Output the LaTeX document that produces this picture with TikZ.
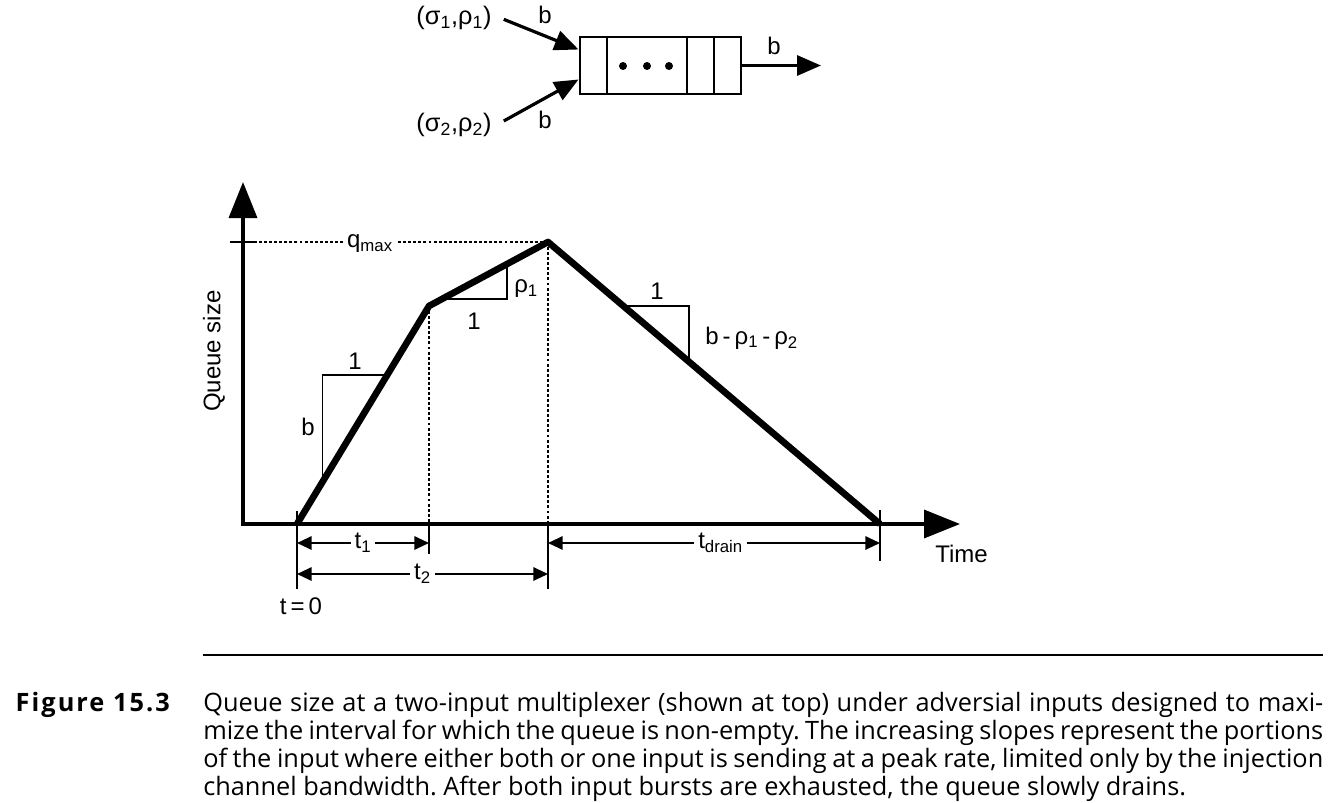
\documentclass[tikz,border=0pt]{standalone}
\usepackage{fontspec}
\setmainfont{Liberation Sans}
\newfontfamily\capfont{Open Sans}
\newfontfamily\capboldfont[LetterSpace=8]{Open Sans Bold}
\usetikzlibrary{arrows.meta,calc,positioning}

\begin{document}
\frenchspacing
\begin{tikzpicture}[x=0.75pt,y=-0.75pt,
  lbl/.style={font=\fontsize{18}{20}\selectfont,inner sep=0pt},
  capline/.style={anchor=base west,inner sep=0pt,font=\capfont\fontsize{19}{22}\selectfont},
  curve/.style={line width=5pt,line join=round},
  axis/.style={line width=2.6pt,-{Triangle[length=27pt,width=21pt]}},
  slope/.style={line width=1.1pt},
  guide/.style={line width=1.5pt,dash pattern=on 2.2pt off 1.6pt},
  dimline/.style={line width=1.5pt,{Triangle[length=11pt,width=10pt]}-{Triangle[length=11pt,width=10pt]}},
  tick/.style={line width=1.1pt},
  feed/.style={line width=2.4pt,-{Triangle[length=18pt,width=15pt]}}]
  \useasboundingbox (0,0) rectangle (1329,803);

  % multiplexer at top
  \node[draw,line width=2.2pt,minimum width=120.75pt,minimum height=42.75pt,inner sep=0pt] (queue) at (660.5,65.5) {};
  \foreach \x in {607,687,714}
    \draw[line width=1.6pt] (\x,37) -- (\x,94);
  \foreach \x in {623,647,669}
    \fill (\x,66) circle (3pt);
  \node[lbl,font=\fontsize{19}{20}\selectfont] (in1) at (454,18) {(σ\textsubscript{1},ρ\textsubscript{1})};
  \node[lbl,font=\fontsize{19}{20}\selectfont] (in2) at (454,125) {(σ\textsubscript{2},ρ\textsubscript{2})};
  \draw[feed] ([xshift=9pt,yshift=-1pt]in1.east) -- ($(queue.west)+(0,-16)$);
  \draw[feed] ([xshift=9pt,yshift=3pt]in2.east) -- ($(queue.west)+(0,14)$);
  \node[lbl] (b1) at (545,15) {b};
  \node[lbl] (b2) at (545,120) {b};
  \coordinate (out) at (821,65.5);
  \draw[feed] (queue.east) -- (out);
  \node[lbl] (bout) at (774,46) {b};

  % axes
  \coordinate (O) at (243,524);
  \coordinate (ytop) at (243,182);
  \coordinate (xend) at (960,524);
  \draw[axis] ([yshift=-1.3pt]O) -- (ytop);
  \draw[axis] ([xshift=-1.3pt]O) -- (xend);
  \node[lbl,rotate=90] (ylab) at (214,351) {Queue size};
  \node[lbl,anchor=west] (time) at (935,554) {Time};

  % queue size curve
  \coordinate (p0) at (297,524);
  \coordinate (p1) at (429,306);
  \coordinate (p2) at (548,242);
  \coordinate (p3) at (880,524);

  \draw[guide] (p1) -- (429,524);
  \draw[guide] (p2) -- (548,524);
  \draw[guide] (p2) -- (397,242);
  \draw[guide] (343,242) -- (256,242);
  \draw[tick,line width=1.5pt] (230,242) -- (256,242);
  \node[lbl] (qmax) at (370,244) {q\textsubscript{max}};

  \draw[curve] (p0) -- (p1) -- (p2) -- (p3);

  % slope triangles
  \draw[slope] ($(p0)!0.195!(p1)$) |- ($(p0)!0.683!(p1)$);
  \node[lbl] (s1) at (355,361) {1};
  \node[lbl] (sb) at (308,427) {b};
  \draw[slope] ($(p1)!0.109!(p2)$) -| ($(p1)!0.655!(p2)$);
  \node[lbl] (s2) at (474,321) {1};
  \node[lbl,anchor=west] (srho) at (514,289) {ρ\textsubscript{1}};
  \draw[slope] ($(p2)!0.227!(p3)$) -| ($(p2)!0.425!(p3)$);
  \node[lbl] (s3) at (657,291) {1};
  \node[lbl,anchor=west] (sdrain) at (705,338) {b\,-\,ρ\textsubscript{1}\,-\,ρ\textsubscript{2}};

  % time intervals
  \draw[tick] (297,511) -- (297,589);
  \draw[tick] (429,524) -- (429,554);
  \draw[tick] (548,524) -- (548,589);
  \draw[tick] (880,510) -- (880,561);
  \draw[dimline] (297,543) -- (429,543) node[lbl,midway,fill=white,inner xsep=3pt] (t1) {t\textsubscript{1}};
  \draw[dimline] (297,574) -- (548,574) node[lbl,midway,fill=white,inner xsep=3pt] (t2) {t\textsubscript{2}};
  \draw[dimline] (548,543) -- (880,543) node[lbl,pos=0.52,fill=white,inner xsep=3pt] (tdrain) {t\textsubscript{drain}};
  \node[lbl] (tzero) at (301,606) {t\,=\,0};

  % caption
  \draw[line width=2.2pt] (203,655) -- (1323,655);
  \node[capline,anchor=base east,font=\capboldfont\fontsize{19}{22}\selectfont] (fignum) at (170,711) {Figure 15.3};
  \node[capline] (cap1) at (203,711) {\makebox[840pt][s]{Queue size at a two-input multiplexer (shown at top) under adversial inputs designed to maxi-}};
  \node[capline] (cap2) at (203,739) {\makebox[840pt][s]{mize the interval for which the queue is non-empty. The increasing slopes represent the portions}};
  \node[capline] (cap3) at (203,767) {\makebox[840pt][s]{of the input where either both or one input is sending at a peak rate, limited only by the injection}};
  \node[capline] (cap4) at (203,795) {channel bandwidth. After both input bursts are exhausted, the queue slowly drains.};
\end{tikzpicture}
\end{document}
